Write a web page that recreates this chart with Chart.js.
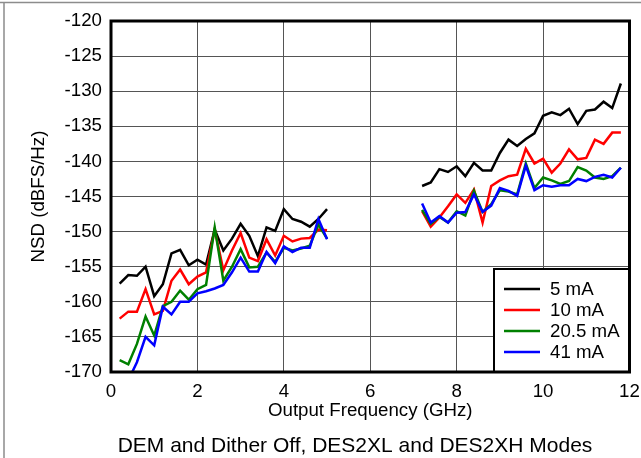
<!DOCTYPE html>
<html>
<head>
<meta charset="utf-8">
<script src="https://cdn.jsdelivr.net/npm/chart.js@4/dist/chart.umd.min.js"></script>
<style>
  html, body { margin: 0; padding: 0; background: #fff; }
</style>
</head>
<body>
<canvas id="nsdChart" width="641" height="458"></canvas>
<script>
// Data (GHz, dBFS/Hz)
const freqLow = [0.2, 0.4, 0.6, 0.8, 1.0, 1.2, 1.4, 1.6, 1.8, 2.0, 2.2, 2.4, 2.6,
  2.8, 3.0, 3.2, 3.4, 3.6, 3.8, 4.0, 4.2, 4.4, 4.6, 4.8, 5.0];
const freqHigh = [7.2, 7.4, 7.6, 7.8, 8.0, 8.2, 8.4, 8.6, 8.8, 9.0, 9.2, 9.4,
  9.6, 9.8, 10.0, 10.2, 10.4, 10.6, 10.8, 11.0, 11.2, 11.4, 11.6, 11.8];

const labels = ['5 mA', '10 mA', '20.5 mA', '41 mA'];
const colors = ['#000000', '#ff0000', '#008000', '#0000ff'];

const nsd5Low = [-157.4, -156.2, -156.3, -155.0, -159.2, -157.5, -153.1, -152.6, -154.8, -154.0,
  -154.7, -149.7, -152.7, -151.0, -148.9, -150.6, -153.5, -149.4, -149.9, -146.8,
  -148.2, -148.6, -149.3, -148.2, -146.8];
const nsd10Low = [-162.4, -161.4, -161.4, -158.2, -161.8, -161.3, -157.0, -155.4, -157.5, -156.4,
  -155.8, -149.7, -155.5, -152.7, -150.2, -153.7, -154.2, -151.1, -153.4, -150.6,
  -151.4, -151.0, -150.9, -149.7, -149.8];
const nsd20Low = [-168.3, -168.9, -166.0, -162.1, -164.8, -160.6, -160.0, -158.4, -159.7, -158.2,
  -157.6, -149.4, -157.0, -155.0, -152.5, -155.1, -155.0, -153.0, -154.3, -152.3,
  -152.7, -152.4, -152.0, -149.0, -151.0];
const nsd41Low = [null, -171.2, -168.6, -165.0, -166.2, -160.7, -161.8, -160.0, -160.0, -158.8,
  -158.5, -158.1, -157.6, -155.8, -153.7, -155.7, -155.7, -152.9, -154.5, -152.1,
  -152.9, -152.3, -152.3, -148.2, -151.1];

const nsd5High = [-143.5, -143.0, -141.1, -141.5, -140.7, -142.1, -140.2, -141.3, -141.3, -138.8,
  -136.9, -137.8, -136.8, -136.0, -133.5, -133.0, -133.4, -132.5, -134.7, -132.8,
  -132.6, -131.5, -132.4, -128.9];
const nsd10High = [-147.1, -149.3, -148.0, -146.4, -144.7, -145.9, -144.0, -148.7, -143.5, -142.7,
  -142.1, -141.9, -138.2, -140.3, -139.6, -141.6, -140.3, -138.3, -139.7, -139.5,
  -136.9, -137.5, -135.9, -135.9];
const nsd20High = [-146.9, -148.9, -147.9, -148.7, -147.1, -147.7, -144.2, -147.2, -146.1, -144.1,
  -144.3, -144.7, -140.3, -143.8, -142.3, -142.7, -143.2, -142.8, -140.8, -141.3,
  -142.3, -142.5, -142.1, -140.9];
const nsd41High = [-146.0, -148.7, -147.8, -148.7, -147.3, -147.2, -144.7, -147.2, -146.3, -143.8,
  -144.2, -144.9, -140.6, -144.1, -143.4, -143.6, -143.4, -143.4, -142.5, -142.8,
  -142.2, -141.9, -142.3, -140.9];

const yTicks = [-170, -165, -160, -155, -150, -145, -140, -135, -130, -125, -120];
const xTicks = [0, 2, 4, 6, 8, 10, 12];
const caption = 'DEM and Dither Off, DES2XL and DES2XH Modes';

const FONT = "'Liberation Sans', Arial, sans-serif";

// join both bands with a null point so the line breaks in the middle
function points(low, high) {
  const a = low.map((y, i) => ({ x: freqLow[i], y }));
  const b = high.map((y, i) => ({ x: freqHigh[i], y }));
  return a.concat([{ x: 6, y: null }], b);
}

const series = [
  points(nsd5Low, nsd5High),
  points(nsd10Low, nsd10High),
  points(nsd20Low, nsd20High),
  points(nsd41Low, nsd41High)
];

const framePlugin = {
  id: 'frame',
  afterDatasetsDraw(chart) {
    const { ctx, chartArea: ca } = chart;
    // legend box, lower right inside the plot
    const bx = 494, by = 269, bw = ca.right - bx, bh = ca.bottom - by;
    ctx.save();
    ctx.fillStyle = '#fff';
    ctx.fillRect(bx, by, bw, bh);
    ctx.strokeStyle = '#000';
    ctx.lineWidth = 2;
    ctx.strokeRect(bx, by, bw, bh);
    ctx.font = '18.7px ' + FONT;
    ctx.textBaseline = 'middle';
    ctx.textAlign = 'left';
    chart.data.datasets.forEach((ds, i) => {
      const y = 289 + i * 21;
      ctx.strokeStyle = ds.borderColor;
      ctx.lineWidth = 2.5;
      ctx.beginPath();
      ctx.moveTo(504, y);
      ctx.lineTo(540, y);
      ctx.stroke();
      ctx.fillStyle = '#000';
      ctx.fillText(ds.label, 550, y + 1);
    });
    ctx.restore();
  },
  afterDraw(chart) {
    const { ctx, chartArea: ca } = chart;
    ctx.save();
    ctx.strokeStyle = '#000';
    ctx.lineWidth = 3;
    ctx.strokeRect(ca.left, ca.top, ca.right - ca.left, ca.bottom - ca.top);
    // outer frame lines (top and left)
    ctx.strokeStyle = '#8c8c8c';
    ctx.lineWidth = 1.5;
    ctx.beginPath();
    ctx.moveTo(0, 2.5);
    ctx.lineTo(641, 2.5);
    ctx.moveTo(4, 2.5);
    ctx.lineTo(4, 458);
    ctx.stroke();
    ctx.fillStyle = '#000';
    ctx.font = '21px ' + FONT;
    ctx.textAlign = 'center';
    ctx.textBaseline = 'middle';
    ctx.fillText(caption, 355, 446);
    ctx.restore();
  }
};

new Chart(document.getElementById('nsdChart'), {
  type: 'line',
  data: {
    datasets: series.map((data, i) => ({
      label: labels[i],
      data,
      borderColor: colors[i],
      backgroundColor: colors[i],
      borderWidth: 2.5,
      pointRadius: 0,
      tension: 0,
      spanGaps: false,
      order: 4 - i
    }))
  },
  options: {
    responsive: false,
    animation: false,
    layout: { padding: { left: 28, top: 21, right: 0, bottom: 36 } },
    plugins: {
      legend: { display: false },
      tooltip: { enabled: false }
    },
    scales: {
      x: {
        type: 'linear',
        min: 0,
        max: 12,
        afterBuildTicks: s => { s.ticks = xTicks.map(v => ({ value: v })); },
        afterFit: s => { s.height = 50; s.paddingLeft = 0; s.paddingRight = 11.5; },
        grid: { color: '#555', lineWidth: 1, drawTicks: false },
        border: { display: false },
        ticks: { color: '#000', padding: 9, maxRotation: 0, font: { family: FONT, size: 18.7 } },
        title: {
          display: true,
          text: 'Output Frequency (GHz)',
          color: '#000',
          padding: 0,
          font: { family: FONT, size: 18.7 }
        }
      },
      y: {
        min: -170,
        max: -120,
        afterBuildTicks: s => { s.ticks = yTicks.map(v => ({ value: v })); },
        afterFit: s => { s.width = 83; },
        grid: { color: '#555', lineWidth: 1, drawTicks: false },
        border: { display: false },
        ticks: { color: '#000', padding: 9, font: { family: FONT, size: 18.7 } },
        title: {
          display: true,
          text: 'NSD (dBFS/Hz)',
          color: '#000',
          padding: 0,
          font: { family: FONT, size: 18.7 }
        }
      }
    }
  },
  plugins: [framePlugin]
});
</script>
</body>
</html>
